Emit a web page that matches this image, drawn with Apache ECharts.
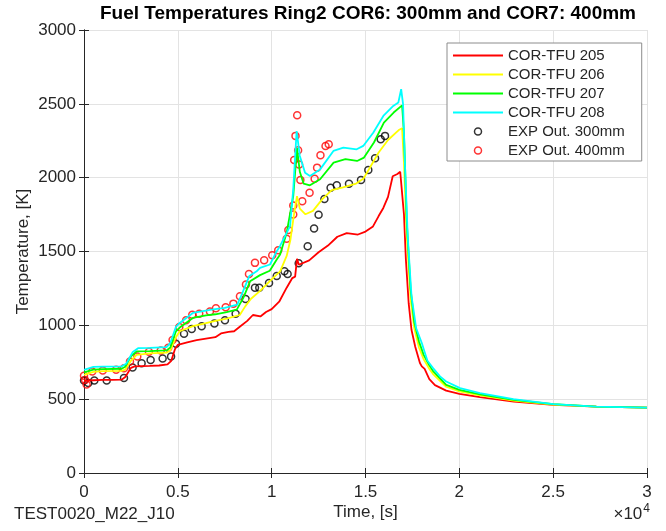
<!DOCTYPE html>
<html>
<head>
<meta charset="utf-8">
<script src="https://cdn.jsdelivr.net/npm/echarts@6/dist/echarts.min.js"></script>
<style>
  html, body { margin: 0; padding: 0; background: #fff; }
  #chart { width: 666px; height: 531px; }
</style>
</head>
<body>
<div id="chart"></div>
<script>
// Fuel temperature histories (time [s], temperature [K])
const tfu205 = [[0,625],[500,628],[1000,630],[1500,630],[2000,632],[2200,650],[2500,712],[2700,722],[3500,725],[4000,728],[4450,735],[4650,760],[4850,840],[5000,868],[5500,885],[6000,900],[6500,910],[7000,920],[7300,945],[7700,955],[8000,960],[8300,990],[8700,1030],[9000,1070],[9400,1060],[9700,1090],[10000,1110],[10400,1160],[10800,1255],[11100,1320],[11250,1330],[11350,1450],[11450,1410],[11550,1400],[12000,1440],[12500,1495],[13000,1540],[13500,1600],[14000,1625],[14600,1615],[15000,1635],[15400,1670],[15700,1740],[15950,1795],[16200,1870],[16450,2010],[16700,2025],[16850,2040],[16950,2030],[17050,1750],[17150,1450],[17300,1150],[17450,970],[17650,855],[17900,745],[18000,722],[18150,705],[18400,635],[18700,595],[19300,558],[20000,536],[21100,514],[22900,484],[25000,461],[27300,450],[30000,443]];
const tfu206 = [[0,665],[500,685],[1000,690],[2000,692],[2200,700],[2500,760],[2800,800],[3500,810],[4400,815],[4600,830],[4900,920],[5100,960],[5800,995],[6500,1015],[7000,1030],[7600,1045],[8300,1070],[8600,1130],[8900,1180],[9400,1235],[9900,1300],[10450,1366],[10800,1470],[11000,1580],[11200,1760],[11350,1875],[11500,1790],[11800,1752],[12200,1775],[12700,1855],[13200,1915],[13800,1935],[14500,1960],[14900,1995],[15200,2060],[15700,2170],[16200,2255],[16800,2325],[16950,2335],[17050,2100],[17200,1600],[17400,1180],[17600,980],[17850,850],[18100,770],[18400,705],[18600,670],[19300,584],[20000,553],[21100,525],[22900,490],[25000,464],[27300,450],[30000,443]];
const tfu207 = [[0,681],[500,700],[1000,704],[2000,706],[2200,720],[2500,790],[2800,823],[3500,826],[4400,830],[4600,850],[4900,960],[5100,985],[5800,1050],[6500,1068],[7000,1075],[7600,1090],[8140,1106],[8490,1186],[8850,1298],[9380,1340],[9900,1370],[10270,1446],[10450,1480],[10800,1627],[11150,1875],[11350,2200],[11500,2040],[11700,1960],[12040,1948],[12580,1989],[13300,2102],[13930,2125],[14550,2113],[14920,2136],[15450,2238],[15980,2373],[16500,2441],[16950,2490],[17050,2300],[17200,1700],[17400,1250],[17600,1020],[17850,890],[18100,800],[18400,730],[18600,690],[19300,597],[20000,563],[21100,533],[22900,495],[25000,466],[27300,450],[30000,443]];
const tfu208 = [[0,699],[500,718],[1000,721],[2000,722],[2250,740],[2600,820],[2900,846],[3500,848],[4400,852],[4600,880],[4900,990],[5100,1016],[5800,1084],[6800,1106],[7500,1118],[8170,1140],[8440,1220],[8800,1332],[9200,1366],[9380,1389],[9910,1412],[10270,1502],[10440,1536],[10980,1672],[11150,1921],[11330,2316],[11500,2147],[11780,2034],[12040,2011],[12580,2056],[13290,2181],[13820,2204],[14530,2192],[14880,2215],[15420,2306],[15950,2418],[16480,2486],[16750,2509],[16900,2599],[17000,2500],[17100,2100],[17250,1600],[17450,1200],[17700,980],[18000,880],[18150,820],[18300,760],[18600,710],[18970,654],[19300,620],[20040,575],[21100,541],[22880,500],[25010,466],[27300,450],[30000,443]];

// Measured outlet temperatures
const exp300 = [[0,627],[230,609],[550,627],[1210,627],[2130,643],[2590,715],[3070,744],[3550,765],[4190,776],[4640,789],[4900,876],[5330,943],[5740,975],[6270,993],[6950,1013],[7510,1034],[8080,1079],[8610,1179],[9110,1255],[9340,1255],[9860,1287],[10270,1334],[10680,1366],[10850,1348],[11440,1420],[11920,1536],[12260,1656],[12500,1749],[12810,1855],[13140,1932],[13470,1948],[14120,1959],[14760,1984],[15150,2052],[15510,2132],[15810,2260],[16040,2283]];
const exp400 = [[0,658],[60,630],[140,600],[440,688],[1000,694],[1710,699],[2130,710],[2450,755],[2840,789],[3460,821],[4090,830],[4490,848],[4720,900],[5080,988],[5440,1034],[5770,1072],[6140,1079],[6710,1094],[7030,1116],[7550,1123],[7960,1147],[8310,1197],[8630,1276],[8790,1348],[9110,1423],[9600,1441],[10030,1475],[10350,1508],[10800,1586],[10890,1645],[11150,1751],[11150,1812],[11200,2120],[11270,2283],[11360,2423],[11410,2185],[11460,2090],[11530,1984],[11630,1841],[12020,1898],[12290,1993],[12420,2068],[12600,2151],[12870,2215],[13040,2226]];

const seriesNames = ['COR-TFU 205', 'COR-TFU 206', 'COR-TFU 207', 'COR-TFU 208', 'EXP Out. 300mm', 'EXP Out. 400mm'];
const xTicks = [0, 5000, 10000, 15000, 20000, 25000, 30000];
const yTicks = [0, 500, 1000, 1500, 2000, 2500, 3000];

const FONT = '"Liberation Sans", Arial, Helvetica, sans-serif';
const INK = '#262626';

const chart = echarts.init(document.getElementById('chart'), null, { renderer: 'canvas' });

function lineSeries(name, data, color) {
  return {
    name, type: 'line', data, symbol: 'none', showSymbol: false,
    lineStyle: { color, width: 1.8 }, itemStyle: { color },
    xAxisIndex: 0, yAxisIndex: 0, silent: true
  };
}
function expSeries(name, data, color) {
  return {
    name, type: 'scatter', data, symbol: 'circle', symbolSize: 7,
    itemStyle: { color: 'transparent', borderColor: color, borderWidth: 1.5 },
    xAxisIndex: 0, yAxisIndex: 0, silent: true
  };
}

const commonX = { type: 'value', min: xTicks[0], max: xTicks[xTicks.length - 1], interval: 5000 };
const commonY = { type: 'value', min: yTicks[0], max: yTicks[yTicks.length - 1], interval: 500 };
const tick = { show: true, inside: true, length: 5, lineStyle: { color: INK } };
const frame = { show: true, lineStyle: { color: INK, width: 1 } };
const hiddenLineDot = { color: 'transparent', borderWidth: 0, opacity: 0 };

chart.setOption({
  animation: false,
  backgroundColor: '#fff',
  grid: { left: 84, right: 19, top: 30, bottom: 58, containLabel: false },
  xAxis: [
    Object.assign({}, commonX, {
      position: 'bottom',
      name: 'Time, [s]', nameLocation: 'middle', nameGap: 31, nameMoveOverlap: false,
      nameTextStyle: { fontFamily: FONT, fontSize: 17, color: INK },
      axisLine: frame, axisTick: tick,
      axisLabel: { fontFamily: FONT, fontSize: 17, color: INK, margin: 11,
        formatter: v => String(v / 10000) },
      splitLine: { show: true, lineStyle: { color: '#e3e3e3', width: 1 } }
    }),
    Object.assign({}, commonX, {
      position: 'top', axisLine: frame, axisTick: tick,
      axisLabel: { show: false }, splitLine: { show: false }
    })
  ],
  yAxis: [
    Object.assign({}, commonY, {
      position: 'left',
      name: 'Temperature, [K]', nameLocation: 'middle', nameGap: 52, nameMoveOverlap: false,
      nameTextStyle: { fontFamily: FONT, fontSize: 17, color: INK },
      axisLine: frame, axisTick: tick,
      axisLabel: { fontFamily: FONT, fontSize: 17, color: INK, margin: 8,
        formatter: v => String(v) },
      splitLine: { show: true, lineStyle: { color: '#e3e3e3', width: 1 } }
    }),
    Object.assign({}, commonY, {
      position: 'right', axisLine: frame, axisTick: tick,
      axisLabel: { show: false }, splitLine: { show: false }
    })
  ],
  legend: {
    orient: 'vertical', left: 447, top: 43,
    itemWidth: 50, itemHeight: 7, itemGap: 4,
    padding: [5, 17, 3, 5],
    backgroundColor: '#fff', borderColor: '#8c8c8c', borderWidth: 1, borderRadius: 0,
    textStyle: { fontFamily: FONT, fontSize: 15, color: INK },
    selectedMode: false,
    data: [
      { name: seriesNames[0], itemStyle: hiddenLineDot },
      { name: seriesNames[1], itemStyle: hiddenLineDot },
      { name: seriesNames[2], itemStyle: hiddenLineDot },
      { name: seriesNames[3], itemStyle: hiddenLineDot },
      { name: seriesNames[4], icon: 'circle', itemStyle: { color: 'transparent', borderColor: '#000', borderWidth: 1.5 } },
      { name: seriesNames[5], icon: 'circle', itemStyle: { color: 'transparent', borderColor: '#ff0000', borderWidth: 1.5 } }
    ]
  },
  series: [
    lineSeries(seriesNames[0], tfu205, '#ff0000'),
    lineSeries(seriesNames[1], tfu206, '#ffff00'),
    lineSeries(seriesNames[2], tfu207, '#00ff00'),
    lineSeries(seriesNames[3], tfu208, '#00ffff'),
    expSeries(seriesNames[4], exp300, '#000000'),
    expSeries(seriesNames[5], exp400, '#ff0000')
  ],
  graphic: [
    { type: 'text', x: 368, y: 14,
      style: { text: 'Fuel Temperatures Ring2 COR6: 300mm and COR7: 400mm', fontFamily: FONT,
        fontSize: 19, fontWeight: 'bold', fill: '#000', align: 'center', verticalAlign: 'middle' } },
    { type: 'text', x: 14, y: 514,
      style: { text: 'TEST0020_M22_J10', fontFamily: FONT, fontSize: 17, fill: INK,
        align: 'left', verticalAlign: 'middle' } },
    { type: 'text', x: 650, y: 514,
      style: { text: '×10{sup|4}', fontFamily: FONT, fontSize: 17, fill: INK,
        align: 'right', verticalAlign: 'middle',
        rich: { sup: { fontFamily: FONT, fontSize: 12, fill: INK, verticalAlign: 'top', padding: [0, 0, 10, 1] } } } }
  ]
});
</script>
</body>
</html>
